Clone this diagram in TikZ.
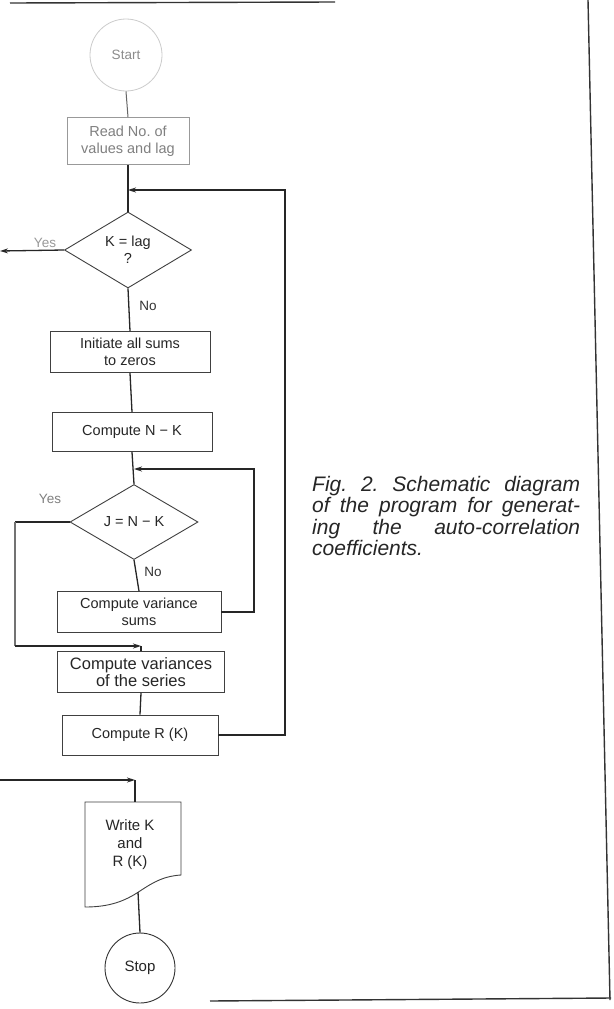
\documentclass[tikz,border=0pt]{standalone}
\usepackage{fontspec}
\setmainfont{Liberation Sans}
\usetikzlibrary{shapes.geometric,arrows.meta}
\frenchspacing
\begin{document}
\begin{tikzpicture}[x=1pt,y=-1pt,
  flow/.style={line width=1.3pt, draw=black!85},
  arr/.style={flow, -{Stealth[length=8pt,width=5pt]}},
  procbox/.style={draw=black!75, line width=0.9pt, text=black!85, align=center, inner sep=0pt, font=\fontsize{14.5}{17}\selectfont},
  decide/.style={procbox, shape=diamond},
  lbl/.style={text=black!80, font=\fontsize{13.5}{15}\selectfont, inner sep=0pt},
  frame/.style={line width=1.4pt, draw=black!80}]
\fill[white] (0,0) rectangle (613,1009);
\useasboundingbox (0,0) rectangle (613,1009);

% frame of the page
\draw[frame] (10,3) -- (335,2);
\draw[frame] (588,0) -- (610,1000);
\draw[frame] (210,1001) -- (611,998);

% nodes
\node[circle, draw=black!20, line width=0.8pt, minimum size=72pt, inner sep=0pt, text=black!45, font=\fontsize{13.5}{15}\selectfont] (start) at (126,55) {Start};
\node[procbox, draw=black!40, text=black!50, minimum width=122pt, minimum height=47pt] (read) at (128,141) {Read No. of\\values and lag};
\node[decide, minimum width=127pt, minimum height=76pt] (kdia) at (128,250) {K = lag\\?};
\node[procbox, minimum width=160pt, minimum height=41pt] (init) at (130,352) {Initiate all sums\\to zeros};
\node[procbox, minimum width=160pt, minimum height=39pt] (nk) at (132,432) {Compute N − K};
\node[decide, minimum width=128pt, minimum height=75pt] (jdia) at (134,522) {J = N − K};
\node[procbox, minimum width=164pt, minimum height=41pt] (vsum) at (139,612) {Compute variance\\sums};
\node[procbox, minimum width=167pt, minimum height=41pt, font=\fontsize{16.5}{17}\selectfont] (cvar) at (141,672) {Compute variances\\of the series};
\node[procbox, minimum width=156pt, minimum height=40pt] (crk) at (140,735) {Compute R (K)};

% document shape (Write K and R (K))
\draw[draw=black!75, line width=0.9pt] (85,802) -- (181,802) -- (181,875)
  .. controls (165,876) and (155,881) .. (140,891)
  .. controls (125,901) and (110,907) .. (85,907) -- cycle;
\node[lbl, align=center, text=black!85, font=\fontsize{15}{18}\selectfont] (write) at (130,845) {Write K\\and\\R (K)};
\coordinate (wtop) at (135,802);
\coordinate (wbot) at (138,892);

\node[circle, draw=black!80, line width=0.9pt, minimum size=70pt, inner sep=0pt, text=black!85, font=\fontsize{15}{17}\selectfont] (stop) at (140,968) {Stop};

% labels
\node[lbl, text=black!40] (yes1) at (45,243) {Yes};
\node[lbl] (no1) at (148,306) {No};
\node[lbl, text=black!50] (yes2) at (50,499) {Yes};
\node[lbl] (no2) at (153,572) {No};

% caption
\node[anchor=north west, inner sep=0pt, text width=268pt, align=justify, text=black!85,
  font=\fontsize{21}{21.5}\selectfont\itshape] (cap) at (312,476)
  {Fig.~2. Schematic diagram\linebreak of the program for generat-\linebreak ing the auto-correlation\linebreak coefficients.};

% connectors
\draw[flow, draw=black!60, line width=1pt] (start.south) -- (read.north);
\draw[flow] (read.south) -- (kdia.north);
\coordinate (r1) at (285,190);
\draw[arr] (crk.east) -| (r1) -- (r1 -| kdia.north);
\coordinate (kout) at (0,251);
\draw[arr] (kdia.west) -- (kout);
\draw[flow] (kdia.south) -- (init.north);
\draw[flow] (init.south) -- (nk.north);
\draw[flow] (nk.south) -- (jdia.north);
\coordinate (r2) at (254,469);
\draw[arr] (vsum.east) -| (r2) -- (r2 -| jdia.north);
\draw[flow] (jdia.south) -- (vsum.north);
\coordinate (jl) at (15,522);
\coordinate (jc) at (141,646);
\draw[flow] (jdia.west) -- (jl);
\draw[flow, draw=black!55] (jl) -- (jl |- jc);
\draw[arr] (jl |- jc) -- (jc);
\draw[flow] (jc) -- (cvar.north);
\draw[flow] (cvar.south) -- (crk.north);
\coordinate (inL) at (0,780);
\coordinate (wc) at (135,780);
\draw[arr] (inL) -- (wc);
\draw[flow] (wc) -- (wtop);
\draw[flow] (wbot) -- (stop.north);
\end{tikzpicture}
\end{document}
